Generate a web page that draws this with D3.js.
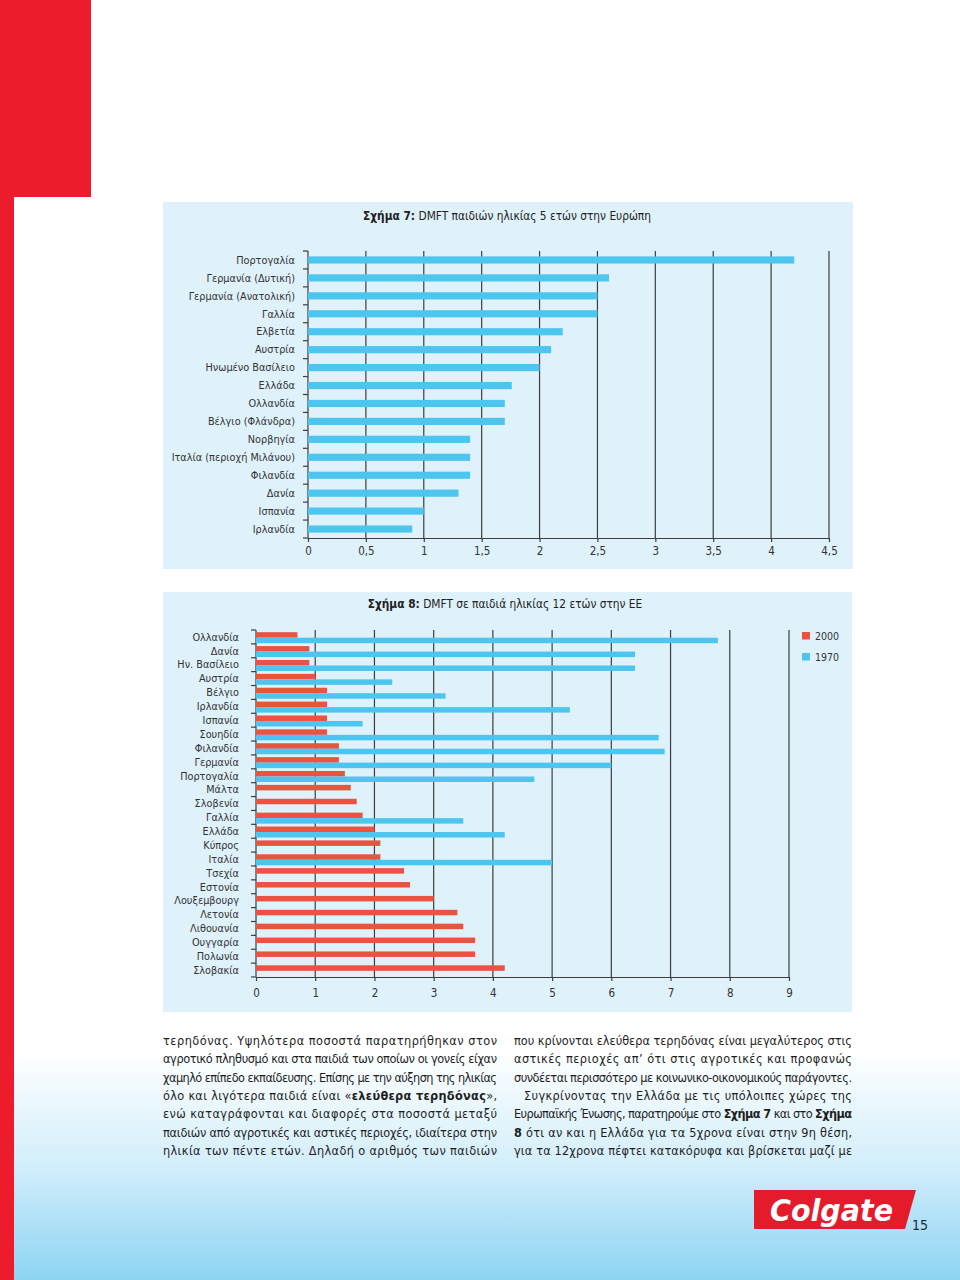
<!DOCTYPE html>
<html><head><meta charset="utf-8">
<script src="https://cdn.jsdelivr.net/npm/d3@7/dist/d3.min.js"></script>
<style>
html,body{margin:0;padding:0;background:#fff;}
svg{display:block;}
</style></head><body>
<svg id="page" width="960" height="1280"></svg>
<script>
// ---------- DATA ----------
const fig7TitleBold = "Σχήμα 7:";
const fig7TitleRest = " DMFT παιδιών ηλικίας 5 ετών στην Ευρώπη";
const fig7Countries = ["Πορτογαλία","Γερμανία (Δυτική)","Γερμανία (Ανατολική)","Γαλλία","Ελβετία","Αυστρία","Ηνωμένο Βασίλειο","Ελλάδα","Ολλανδία","Βέλγιο (Φλάνδρα)","Νορβηγία","Ιταλία (περιοχή Μιλάνου)","Φιλανδία","Δανία","Ισπανία","Ιρλανδία"];
const fig7Values = [4.2,2.6,2.5,2.5,2.2,2.1,2.0,1.76,1.7,1.7,1.4,1.4,1.4,1.3,1.0,0.9];
const fig7Ticks = [0,0.5,1,1.5,2,2.5,3,3.5,4,4.5];

const fig8TitleBold = "Σχήμα 8:";
const fig8TitleRest = " DMFT σε παιδιά ηλικίας 12 ετών στην ΕΕ";
const fig8Countries = ["Ολλανδία","Δανία","Ην. Βασίλειο","Αυστρία","Βέλγιο","Ιρλανδία","Ισπανία","Σουηδία","Φιλανδία","Γερμανία","Πορτογαλία","Μάλτα","Σλοβενία","Γαλλία","Ελλάδα","Κύπρος","Ιταλία","Τσεχία","Εστονία","Λουξεμβουργ","Λετονία","Λιθουανία","Ουγγαρία","Πολωνία","Σλοβακία"];
const fig8Values2000 = [0.7,0.9,0.9,1.0,1.2,1.2,1.2,1.2,1.4,1.4,1.5,1.6,1.7,1.8,2.0,2.1,2.1,2.5,2.6,3.0,3.4,3.5,3.7,3.7,4.2];
const fig8Values1970 = [7.8,6.4,6.4,2.3,3.2,5.3,1.8,6.8,6.9,6.0,4.7,null,null,3.5,4.2,null,5.0,null,null,null,null,null,null,null,null];
const fig8Ticks = [0,1,2,3,4,5,6,7,8,9];
const fig8Series = ["2000","1970"];

const leftColumnLines = [
  [["τερηδόνας. Υψηλότερα ποσοστά παρατηρήθηκαν στον",false]],
  [["αγροτικό πληθυσμό και στα παιδιά των οποίων οι γονείς είχαν",false]],
  [["χαμηλό επίπεδο εκπαίδευσης. Επίσης με την αύξηση της ηλικίας",false]],
  [["όλο και λιγότερα παιδιά είναι «",false],["ελεύθερα τερηδόνας",true],["»,",false]],
  [["ενώ καταγράφονται και διαφορές στα ποσοστά μεταξύ",false]],
  [["παιδιών από αγροτικές και αστικές περιοχές, ιδιαίτερα στην",false]],
  [["ηλικία των πέντε ετών. Δηλαδή ο αριθμός των παιδιών",false]]
];
const rightColumnLines = [
  [["που κρίνονται ελεύθερα τερηδόνας είναι μεγαλύτερος στις",false]],
  [["αστικές περιοχές απ’ ότι στις αγροτικές και προφανώς",false]],
  [["συνδέεται περισσότερο με κοινωνικο-οικονομικούς παράγοντες.",false]],
  [["Συγκρίνοντας την Ελλάδα με τις υπόλοιπες χώρες της",false]],
  [["Ευρωπαϊκής Ένωσης, παρατηρούμε στο ",false],["Σχήμα 7",true],[" και στο ",false],["Σχήμα",true]],
  [["8",true],[" ότι αν και η Ελλάδα για τα 5χρονα είναι στην 9η θέση,",false]],
  [["για τα 12χρονα πέφτει κατακόρυφα και βρίσκεται μαζί με",false]]
];
const brandName = "Colgate";
const pageNumber = "15";

// ---------- STYLE ----------
const FONT = "'DejaVu Sans Condensed','Liberation Sans Narrow',sans-serif";
const BLUE = "#4cc6ef", RED = "#e9533f", PANEL = "#dff1fb", GRID = "#3d3d3d", LABEL = "#333";
const LABEL_SIZE = 10.8;

const svg = d3.select("#page");
const defs = svg.append("defs");
const grad = defs.append("linearGradient").attr("id","bg").attr("x1",0).attr("y1",0).attr("x2",0).attr("y2",1);
grad.append("stop").attr("offset",0).attr("stop-color","#ffffff");
grad.append("stop").attr("offset",0.82).attr("stop-color","#ffffff");
grad.append("stop").attr("offset",0.91).attr("stop-color","#d3eefb");
grad.append("stop").attr("offset",1).attr("stop-color","#8dd4f3");
svg.append("rect").attr("width",960).attr("height",1280).attr("fill","url(#bg)");

// red page decoration
svg.append("rect").attr("x",0).attr("y",0).attr("width",91).attr("height",197).attr("fill","#ec1c2d");
svg.append("rect").attr("x",0).attr("y",0).attr("width",14).attr("height",1280).attr("fill","#ec1c2d");

function fmt(d){ return String(d).replace(".",","); }

function title(x,y,b,r){
  const t = svg.append("text").attr("x",x).attr("y",y).attr("text-anchor","middle")
    .attr("font-family",FONT).attr("font-size",11.8).attr("fill","#222");
  t.append("tspan").attr("font-weight","bold").text(b);
  t.append("tspan").text(r);
}

// ---------- FIGURE 7 ----------
svg.append("rect").attr("x",163).attr("y",202).attr("width",690).attr("height",367).attr("fill",PANEL);
title(507,220,fig7TitleBold,fig7TitleRest);

const x7 = d3.scaleLinear().domain([0,4.5]).range([308,829]);
const y7 = d3.scaleBand().domain(fig7Countries).range([251,538]).paddingInner(0.6).paddingOuter(0.3);
const g7 = svg.append("g");

g7.selectAll("line.grid").data(fig7Ticks).join("line").attr("class","grid")
  .attr("x1",d=>x7(d)).attr("x2",d=>x7(d)).attr("y1",251).attr("y2",538)
  .attr("stroke",GRID).attr("stroke-width",1.2);

g7.selectAll("rect.bar").data(fig7Countries).join("rect").attr("class","bar")
  .attr("x",x7(0)).attr("y",d=>y7(d)).attr("height",y7.bandwidth())
  .attr("width",(d,i)=>x7(fig7Values[i])-x7(0)).attr("fill",BLUE);

const b7 = d3.range(fig7Countries.length+1).map(i=>y7.range()[0]+i*y7.step());
g7.selectAll("line.yt").data(b7).join("line").attr("class","yt")
  .attr("x1",x7(0)-5).attr("x2",x7(0)).attr("y1",d=>d).attr("y2",d=>d)
  .attr("stroke",GRID).attr("stroke-width",1.2);

g7.selectAll("text.lab").data(fig7Countries).join("text").attr("class","lab")
  .attr("x",295).attr("y",d=>y7(d)+y7.bandwidth()/2).attr("dy","0.35em")
  .attr("text-anchor","end").attr("font-family",FONT).attr("font-size",LABEL_SIZE).attr("fill",LABEL).text(d=>d);

const ax7 = svg.append("g").attr("transform","translate(0,538)")
  .call(d3.axisBottom(x7).tickValues(fig7Ticks).tickFormat(fmt).tickSize(4).tickSizeOuter(0).tickPadding(5));
ax7.select(".domain").attr("stroke",GRID).attr("stroke-width",1.2);
ax7.selectAll(".tick line").attr("stroke",GRID).attr("stroke-width",1.2);
ax7.selectAll(".tick text").attr("font-family",FONT).attr("font-size",11.5).attr("fill",LABEL);

// ---------- FIGURE 8 ----------
svg.append("rect").attr("x",163).attr("y",592).attr("width",689).attr("height",420).attr("fill",PANEL);
title(505,608,fig8TitleBold,fig8TitleRest);

const x8 = d3.scaleLinear().domain([0,9]).range([256,789]);
const y8 = d3.scaleBand().domain(fig8Countries).range([630,977]);
const ys8 = d3.scaleBand().domain(fig8Series).range([2.2,13.2]);
const color8 = d3.scaleOrdinal().domain(fig8Series).range([RED,BLUE]);
const g8 = svg.append("g");

g8.selectAll("line.grid").data(fig8Ticks).join("line").attr("class","grid")
  .attr("x1",d=>x8(d)).attr("x2",d=>x8(d)).attr("y1",630).attr("y2",977)
  .attr("stroke",GRID).attr("stroke-width",1.2);

const rows8 = [];
fig8Countries.forEach((c,i)=>{
  rows8.push({c, s:"2000", v:fig8Values2000[i]});
  if (fig8Values1970[i] != null) rows8.push({c, s:"1970", v:fig8Values1970[i]});
});
g8.selectAll("rect.bar").data(rows8).join("rect").attr("class","bar")
  .attr("x",x8(0)).attr("y",d=>y8(d.c)+ys8(d.s)).attr("height",ys8.bandwidth())
  .attr("width",d=>x8(d.v)-x8(0)).attr("fill",d=>color8(d.s));

const b8 = d3.range(fig8Countries.length+1).map(i=>y8.range()[0]+i*y8.step());
g8.selectAll("line.yt").data(b8).join("line").attr("class","yt")
  .attr("x1",x8(0)-5).attr("x2",x8(0)).attr("y1",d=>d).attr("y2",d=>d)
  .attr("stroke",GRID).attr("stroke-width",1.2);

g8.selectAll("text.lab").data(fig8Countries).join("text").attr("class","lab")
  .attr("x",239).attr("y",d=>y8(d)+y8.bandwidth()/2).attr("dy","0.35em")
  .attr("text-anchor","end").attr("font-family",FONT).attr("font-size",LABEL_SIZE).attr("fill",LABEL).text(d=>d);

const ax8 = svg.append("g").attr("transform","translate(0,977)")
  .call(d3.axisBottom(x8).tickValues(fig8Ticks).tickFormat(fmt).tickSize(4).tickSizeOuter(0).tickPadding(8));
ax8.select(".domain").attr("stroke",GRID).attr("stroke-width",1.2);
ax8.selectAll(".tick line").attr("stroke",GRID).attr("stroke-width",1.2);
ax8.selectAll(".tick text").attr("font-family",FONT).attr("font-size",11.5).attr("fill",LABEL);

const leg = svg.append("g").selectAll("g").data(fig8Series).join("g")
  .attr("transform",(d,i)=>`translate(802,${632+i*21})`);
leg.append("rect").attr("width",8).attr("height",7.5).attr("fill",d=>color8(d));
leg.append("text").attr("x",13).attr("y",4).attr("dy","0.35em").attr("font-family",FONT)
  .attr("font-size",10.5).attr("fill",LABEL).text(d=>d);

// ---------- BODY TEXT ----------
function column(lines,x0,x1,indentIdx){
  lines.forEach((segs,i)=>{
    const xs = (indentIdx===i) ? x0+10 : x0;
    const t = svg.append("text").attr("x",xs).attr("y",1045+i*18.3)
      .attr("font-family",FONT).attr("font-size",12.6).attr("fill","#1e1e1e")
      .attr("textLength",x1-xs).attr("lengthAdjust","spacing");
    segs.forEach(s=>t.append("tspan").attr("font-weight",s[1]?"bold":"normal").text(s[0]));
  });
}
column(leftColumnLines,163,497,-1);
column(rightColumnLines,514,852,3);

// ---------- LOGO ----------
svg.append("polygon").attr("points","754,1190 916,1190 905,1229 754,1229").attr("fill","#e31b2b");
svg.append("text").attr("x",770).attr("y",1221).attr("font-family","'DejaVu Sans Condensed','Liberation Sans',sans-serif")
  .attr("font-weight","bold").attr("font-style","italic").attr("font-size",31).attr("fill","#fff")
  .attr("textLength",123).attr("lengthAdjust","spacingAndGlyphs").text(brandName);
svg.append("text").attr("x",912).attr("y",1230).attr("font-family",FONT).attr("font-size",14)
  .attr("fill","#1c2b3c").text(pageNumber);
</script>
</body></html>
